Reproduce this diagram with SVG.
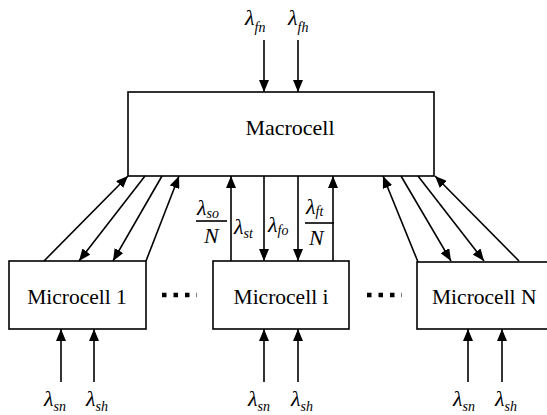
<svg xmlns="http://www.w3.org/2000/svg" width="547" height="415" viewBox="0 0 547 415">
<style>
.box{fill:#fff;stroke:#000;stroke-width:1.6}
.lbl{font-family:"Liberation Serif","Times New Roman",serif;font-size:21.5px;fill:#000}
.ln{stroke:#000;stroke-width:1.6;fill:none}
.arr{stroke:#000;stroke-width:1.6;fill:none;marker-end:url(#ah)}
.lam{font-family:"Liberation Serif","Times New Roman",serif;font-style:italic;font-size:22px;fill:#000}
.sub{font-size:14px}
.dots{stroke:#000;stroke-width:4.5;stroke-dasharray:4.5 7;fill:none}
</style>
<defs>
<marker id="ah" markerUnits="userSpaceOnUse" markerWidth="12" markerHeight="10" refX="12" refY="5" orient="auto">
<path d="M0,0 L12,5 L0,10 z" fill="#000"/>
</marker>
</defs>
<g id="macrocell">
<rect class="box" x="128" y="92" width="306" height="84"/>
<text class="lbl" x="290" y="135" text-anchor="middle" style="font-size:22px">Macrocell</text>
</g>
<g id="microcell1">
<rect class="box" x="9" y="261" width="137" height="68"/>
<text class="lbl" x="77" y="304" text-anchor="middle">Microcell 1</text>
</g>
<g id="microcelli">
<rect class="box" x="213" y="261" width="136" height="68"/>
<text class="lbl" x="281" y="304" text-anchor="middle">Microcell i</text>
</g>
<g id="microcellN">
<rect class="box" x="417" y="262" width="145" height="67"/>
<text class="lbl" x="432" y="304">Microcell N</text>
</g>
<g id="ellipses">
<line class="dots" x1="162" y1="295" x2="197" y2="295"/>
<line class="dots" x1="367" y1="295" x2="402" y2="295"/>
</g>
<g id="connectors">
<line class="arr" x1="264" y1="40" x2="264" y2="92"/>
<line class="arr" x1="298" y1="40" x2="298" y2="92"/>
<line class="arr" x1="231" y1="261" x2="231" y2="176"/>
<line class="arr" x1="264" y1="176" x2="264" y2="261"/>
<line class="arr" x1="298" y1="176" x2="298" y2="261"/>
<line class="arr" x1="333" y1="261" x2="333" y2="176"/>
<line class="arr" x1="44" y1="261" x2="128" y2="176"/>
<line class="arr" x1="145" y1="176" x2="79" y2="261"/>
<line class="arr" x1="162" y1="176" x2="113" y2="261"/>
<line class="arr" x1="146" y1="261" x2="179" y2="176"/>
<line class="arr" x1="418" y1="262" x2="383" y2="176"/>
<line class="arr" x1="401" y1="176" x2="451" y2="261"/>
<line class="arr" x1="418" y1="176" x2="484" y2="261"/>
<line class="arr" x1="519" y1="261" x2="435" y2="176"/>
<line class="arr" x1="61" y1="382" x2="61" y2="329"/>
<line class="arr" x1="94" y1="382" x2="94" y2="329"/>
<line class="arr" x1="264" y1="382" x2="264" y2="329"/>
<line class="arr" x1="298" y1="382" x2="298" y2="329"/>
<line class="arr" x1="468" y1="382" x2="468" y2="329"/>
<line class="arr" x1="502" y1="382" x2="502" y2="329"/>
</g>
<g id="labels">
<text class="lam" x="245" y="25">λ<tspan class="sub" dy="7">fn</tspan></text>
<text class="lam" x="288" y="25">λ<tspan class="sub" dy="7">fh</tspan></text>
<text class="lam" x="197" y="215">λ<tspan class="sub" dy="3">so</tspan></text>
<line class="ln" x1="196" y1="221" x2="227" y2="221"/>
<text class="lam" x="204" y="243">N</text>
<text class="lam" x="234" y="234">λ<tspan class="sub" dy="4">st</tspan></text>
<text class="lam" x="268" y="232">λ<tspan class="sub" dy="3">fo</tspan></text>
<text class="lam" x="306" y="214">λ<tspan class="sub" dy="2">ft</tspan></text>
<line class="ln" x1="305" y1="223" x2="334" y2="223"/>
<text class="lam" x="309" y="245">N</text>
<text class="lam" x="44" y="406">λ<tspan class="sub" dy="5">sn</tspan></text>
<text class="lam" x="86" y="406">λ<tspan class="sub" dy="5">sh</tspan></text>
<text class="lam" x="248" y="406">λ<tspan class="sub" dy="5">sn</tspan></text>
<text class="lam" x="291" y="406">λ<tspan class="sub" dy="5">sh</tspan></text>
<text class="lam" x="453" y="406">λ<tspan class="sub" dy="5">sn</tspan></text>
<text class="lam" x="495" y="406">λ<tspan class="sub" dy="5">sh</tspan></text>
</g>
</svg>
